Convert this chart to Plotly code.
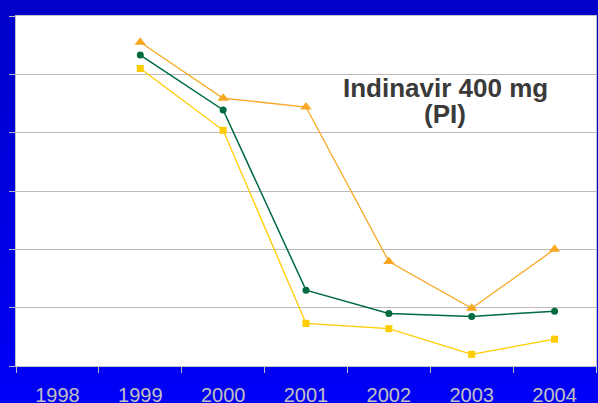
import plotly.graph_objects as go

years = ["1998", "1999", "2000", "2001", "2002", "2003", "2004"]
series_years = ["1999", "2000", "2001", "2002", "2003", "2004"]
orange_vals = [5.55, 4.59, 4.44, 1.79, 0.99, 2.00]
green_vals = [5.33, 4.39, 1.30, 0.90, 0.85, 0.94]
yellow_vals = [5.10, 4.04, 0.73, 0.64, 0.20, 0.46]
title_lines = ["Indinavir 400 mg", "(PI)"]

W, H = 598, 403
L, R, T, B = 16, 2, 16, 37
plot_h = H - T - B

fig = go.Figure()

fig.add_trace(go.Scatter(x=series_years, y=orange_vals, mode="lines+markers",
                         line=dict(color="#F7A823", width=1.3),
                         marker=dict(symbol="triangle-up", size=10, color="#F7A823"),
                         showlegend=False))
fig.add_trace(go.Scatter(x=series_years, y=green_vals, mode="lines+markers",
                         line=dict(color="#006B3F", width=1.5),
                         marker=dict(symbol="circle", size=7, color="#006B3F"),
                         showlegend=False))
fig.add_trace(go.Scatter(x=series_years, y=yellow_vals, mode="lines+markers",
                         line=dict(color="#FFCC00", width=1.3),
                         marker=dict(symbol="square", size=7, color="#FFCC00"),
                         showlegend=False))

# gradient background strips (paper coords)
shapes = []
N = 60
for i in range(N):
    py0 = H * i / N
    py1 = H * (i + 1) / N + 0.5
    t = (i + 0.5) / N
    b = int(round(200 + (248 - 200) * t))
    shapes.append(dict(type="rect", xref="paper", yref="paper", layer="below",
                       x0=-L / (W - L - R) - 0.01, x1=1 + (R + 2) / (W - L - R),
                       y0=(H - B - py1) / plot_h, y1=(H - B - py0) / plot_h,
                       line=dict(width=0), fillcolor=f"rgb(0,0,{b})"))
shapes.append(dict(type="rect", xref="paper", yref="paper", layer="below",
                   x0=0, x1=1, y0=0, y1=1, line=dict(width=0), fillcolor="white"))

fig.update_layout(
    width=W, height=H,
    margin=dict(l=L, r=R, t=T, b=B, pad=0, autoexpand=False),
    paper_bgcolor="rgb(0,0,225)",
    plot_bgcolor="rgba(0,0,0,0)",
    shapes=shapes,
    font=dict(family="Liberation Sans, Arial, sans-serif"),
    xaxis=dict(type="category", categoryorder="array", categoryarray=years,
               range=[-0.5, 6.5], tickson="boundaries", ticks="outside",
               ticklen=6, tickcolor="#B8B8C0", showline=True, linecolor="#C0C0C8",
               linewidth=1, mirror=True, showgrid=False, zeroline=False,
               automargin=False,
               tickfont=dict(size=20, color="#C0C0C0"), ticklabelstandoff=11),
    yaxis=dict(range=[0, 6], dtick=1, ticks="outside", ticklen=6,
               tickcolor="#B8B8C0", showline=True, linecolor="#C0C0C8",
               linewidth=1, mirror=True, showgrid=True, gridcolor="#BEB8B8",
               gridwidth=1, zeroline=False, showticklabels=False,
               automargin=False),
    annotations=[
        dict(text=title_lines[0], xref="paper", yref="paper", x=0.7405, y=0.795,
             showarrow=False, xanchor="center", yanchor="middle",
             font=dict(size=26, color="#3A3A3A", family="Liberation Sans, Arial, sans-serif", weight="bold")),
        dict(text=title_lines[1], xref="paper", yref="paper", x=0.7405, y=0.72,
             showarrow=False, xanchor="center", yanchor="middle",
             font=dict(size=26, color="#3A3A3A", family="Liberation Sans, Arial, sans-serif", weight="bold")),
    ],
)

fig.write_html("out.html", config={"displayModeBar": False},
               post_script="document.body.style.margin='0px';document.body.style.overflow='hidden';")
